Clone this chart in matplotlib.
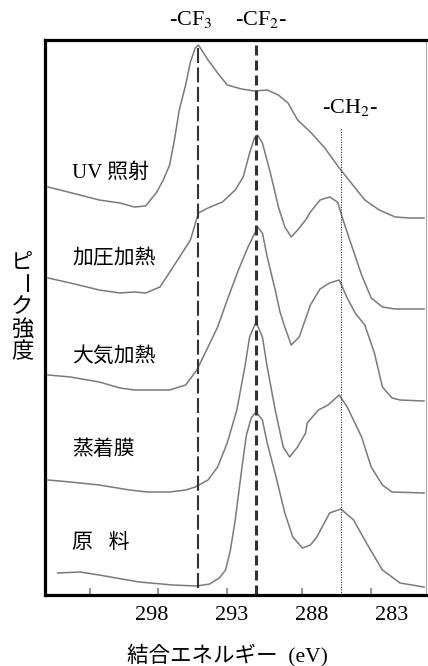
import matplotlib
matplotlib.use("Agg")
import matplotlib.pyplot as plt

plt.rcParams['lines.scale_dashes'] = False
plt.rcParams['mathtext.fontset'] = 'stix'

JP = 'Noto Sans CJK JP'
SERIF = 'Liberation Serif'

# C1s spectra, binding energy (eV) vs. stacked intensity (arb. units)
uv_e = [304.5, 303.0, 301.3, 300.0, 299.1, 298.4, 297.7, 297.3, 296.9, 296.6, 296.3,
        295.9, 295.6, 295.3, 295.1, 294.5, 293.9, 293.3, 292.4, 291.6, 290.8, 290.1,
        289.5, 288.9, 288.1, 287.2, 286.3, 285.6, 284.7, 283.8, 282.8, 281.9, 281.0]
uv_i = [408, 402, 395, 392, 388, 389, 403, 415, 430, 455, 485,
        510, 533, 547, 550, 535, 522, 510, 506, 504, 505, 500,
        492, 475, 463, 447, 427, 413, 395, 385, 378, 377, 377]

press_e = [304.5, 303.1, 301.3, 300.0, 299.1, 298.4, 297.5, 296.4, 295.6, 295.1, 294.5,
           293.6, 292.8, 292.3, 291.9, 291.6, 291.4, 291.1, 290.6, 290.1, 289.7, 289.3,
           288.9, 288.4, 288.1, 287.5, 286.9, 286.4, 286.1, 285.6, 284.9, 284.3, 283.6,
           282.8, 281.0]
press_i = [317, 312, 305, 302, 303, 302, 308, 335, 355, 382, 387,
           393, 405, 418, 442, 457, 460, 452, 422, 388, 368, 358,
           365, 375, 383, 395, 398, 393, 377, 353, 320, 297, 288,
           286, 286]

air_e = [304.5, 303.1, 301.3, 300.0, 299.1, 298.1, 296.9, 295.9, 295.2, 294.5, 293.9,
         293.3, 292.6, 292.0, 291.4, 291.1, 290.8, 290.3, 290.0, 289.7, 289.3, 288.8,
         288.1, 287.5, 286.9, 286.3, 285.8, 285.3, 284.7, 284.1, 283.6, 283.0, 282.5,
         281.0]
air_i = [220, 218, 213, 207, 205, 205, 205, 210, 225, 248, 268,
         295, 325, 348, 368, 362, 338, 305, 283, 268, 250, 258,
         290, 306, 312, 315, 297, 282, 270, 242, 208, 197, 195,
         194]

film_e = [304.5, 303.1, 301.3, 299.4, 298.3, 296.9, 295.9, 295.3, 294.5, 293.9, 293.3,
          292.7, 292.2, 291.9, 291.5, 291.1, 290.8, 290.3, 289.8, 289.4, 288.9, 288.4,
          288.3, 287.6, 287.0, 286.3, 285.8, 284.9, 284.3, 283.6, 283.0, 281.0]
film_i = [115, 113, 110, 105, 103, 103, 105, 108, 115, 128, 152,
          185, 228, 258, 273, 258, 228, 185, 148, 138, 148, 162,
          172, 185, 190, 200, 188, 158, 128, 110, 103, 102]

raw_e = [303.9, 302.5, 301.3, 300.6, 298.8, 296.7, 295.2, 294.4, 293.8, 293.4, 293.1,
         292.8, 292.4, 292.1, 291.8, 291.5, 291.1, 290.8, 290.2, 289.7, 289.2, 288.6,
         288.1, 287.7, 286.9, 286.2, 285.4, 284.6, 283.6, 282.5, 281.0]
raw_i = [22, 23, 20, 18, 13, 10, 9, 11, 17, 25, 45,
         75, 125, 160, 177, 183, 175, 152, 115, 82, 58, 47,
         50, 58, 82, 86, 75, 52, 25, 12, 8]

spectra = [(uv_e, uv_i), (press_e, press_i), (air_e, air_i), (film_e, film_i), (raw_e, raw_i)]
sample_names = ['UV 照射', '加圧加熱', '大気加熱', '蒸着膜', '原   料']
name_y = [422, 335, 238, 145, 52]

# reference peak positions
cf3_pos = 295.1
cf2_pos = 291.5
ch2_pos = 286.2

tick_values = [298, 293, 288, 283]
tick_marks = [301.9, 297.6, 293.3, 288.6, 284.3]

fig = plt.figure(figsize=(4.28, 6.66), dpi=100)
ax = fig.add_axes([45 / 428, 71 / 666, 381 / 428, 555 / 666])

for e, i in spectra:
    ax.plot(e, i, color='#7a7a7a', lw=1.1)

for name, y in zip(sample_names, name_y):
    ax.text(303.0, y, name, fontsize=15, family=[SERIF, JP], ha='left', va='center')

ax.plot([cf3_pos, cf3_pos], [7, 551], color='#333333', lw=1.5, dashes=(10.8, 3.2))
ax.plot([cf2_pos, cf2_pos], [0, 555], color='#333333', lw=2.2, dashes=(7.2, 3.6))
ax.plot([ch2_pos, ch2_pos], [0, 467], color='#333333', lw=0.8, dashes=(0.8, 1.0))

ax.text(295.6, 575, r'-CF$_{3}$', fontsize=16, family=SERIF, ha='center', va='center', clip_on=False)
ax.text(291.2, 575, r'-CF$_{2}$-', fontsize=16, family=SERIF, ha='center', va='center', clip_on=False)
ax.text(285.6, 488, r'-CH$_{2}$-', fontsize=16, family=SERIF, ha='center', va='center')

ax.set_xlim(304.69, 280.875)
ax.set_ylim(0, 555)
ax.set_yticks([])
ax.set_xticks(tick_values)
ax.set_xticklabels([str(t) for t in tick_values], fontsize=16, family=SERIF)
ax.tick_params(axis='x', which='major', length=0, pad=8)
ax.set_xticks(tick_marks, minor=True)
ax.tick_params(axis='x', which='minor', direction='in', length=5, width=1.5, color='#999999')

for side in ['left', 'bottom', 'top']:
    ax.spines[side].set_linewidth(2.3)
ax.spines['right'].set_linewidth(0.8)
ax.spines['right'].set_color('#aaaaaa')

fig.text(227 / 428, 11 / 666, '結合エネルギー  (eV)', fontsize=15.5, family=[SERIF, JP],
         ha='center', va='center')

# vertical axis title, one character per line
for k, ch in enumerate('ピーク強度'):
    fig.text(22 / 428, (666 - 262 - k * 22.5) / 666, ch, fontsize=16, family=JP,
             ha='center', va='center', rotation=-90 if ch == 'ー' else 0)

fig.savefig('out.png', dpi=100)
